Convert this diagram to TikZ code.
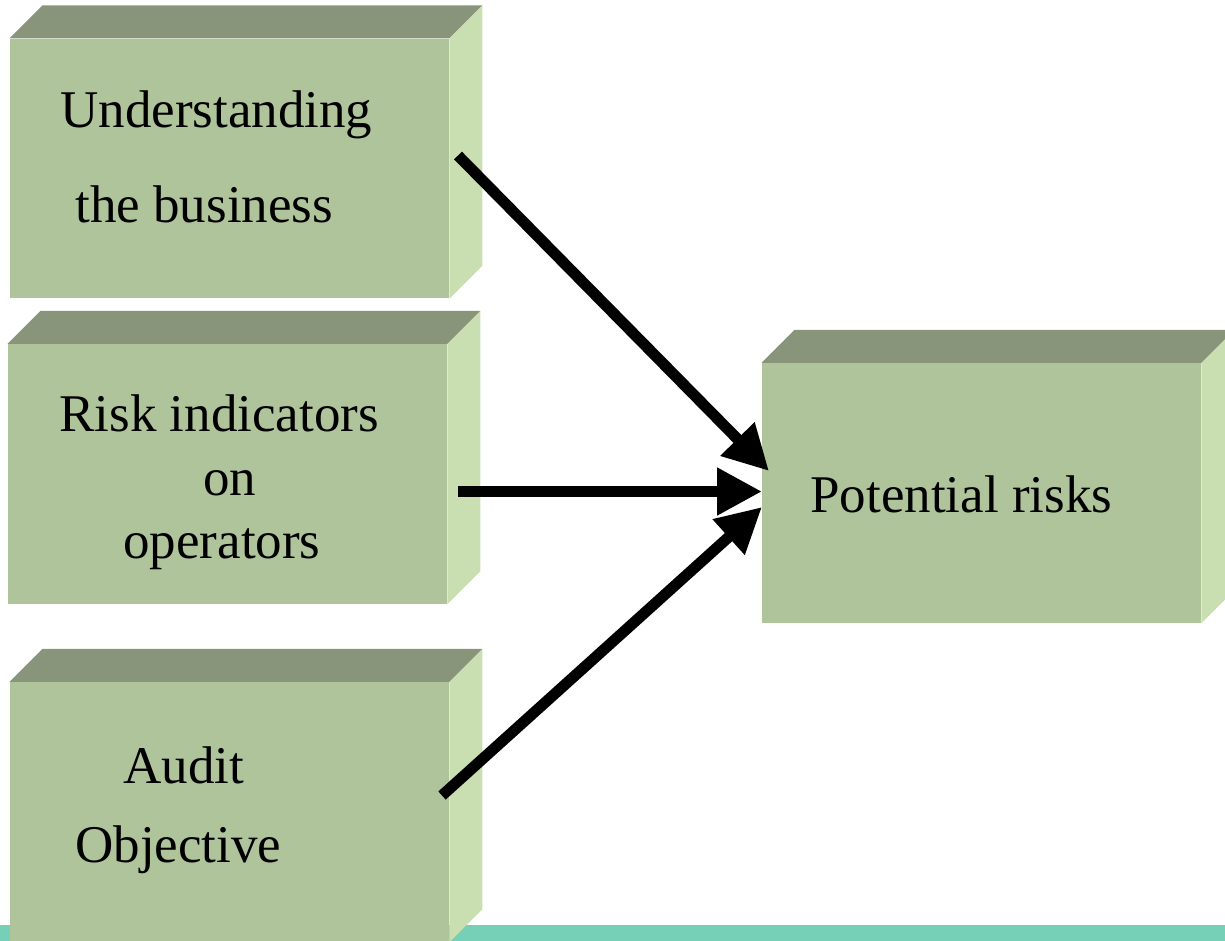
\documentclass[tikz,border=0pt]{standalone}
\usepackage{fontspec}
\setmainfont{Liberation Serif}
\usetikzlibrary{arrows.meta}
\definecolor{frontc}{RGB}{176,196,156}
\definecolor{topc}{RGB}{136,149,122}
\definecolor{sidec}{RGB}{201,223,178}
\definecolor{barc}{RGB}{118,207,183}
\tikzset{
  face/.style={rectangle, fill=frontc, inner sep=0pt, minimum width=219.5pt, minimum height=129.75pt},
  lbl/.style={anchor=base west, inner sep=0pt, font=\fontsize{26.5pt}{30pt}\selectfont},
  conn/.style={line width=5.5pt, -{Triangle[length=22.5pt,width=22.5pt]}}
}
\newcommand{\cuboid}[1]{%
  \fill[topc] (#1.north west) -- ++(33,-33) -- ($(#1.north east)+(33,-33)$) -- (#1.north east) -- cycle;
  \fill[sidec] (#1.north east) -- ++(33,-33) -- ($(#1.south east)+(33,-33)$) -- (#1.south east) -- cycle;
}
\usetikzlibrary{calc}
\begin{document}
\begin{tikzpicture}[x=0.5pt,y=-0.5pt]
\useasboundingbox (0,0) rectangle (1225,941);
\fill[barc] (0,925) rectangle (1225,941);
% boxes
\node[face] (b1) at (229.5,168.5) {};
\node[face] (b2) at (227.5,474) {};
\node[face] (b3) at (229.5,812) {};
\node[face] (b4) at (981.5,493) {};
\cuboid{b1}
\cuboid{b2}
\cuboid{b3}
\cuboid{b4}
% labels
\node[lbl] (t1a) at (60,128) {Understanding};
\node[lbl] (t1b) at (75,223) {the business};
\node[lbl] (t2a) at (59,431) {Risk indicators};
\node[lbl] (t2b) at (203,495) {on};
\node[lbl] (t2c) at (123,558) {operators};
\node[lbl] (t3a) at (123,783) {Audit};
\node[lbl] (t3b) at (75,862) {Objective};
\node[lbl] (t4) at (810,512) {Potential risks};
% connectors
\coordinate (s1) at (458,155.5);
\coordinate (e1) at (769,471);
\coordinate (s2) at (458,491.5);
\coordinate (e2) at (762,491.5);
\coordinate (s3) at (442,795.5);
\coordinate (e3) at (762,507);
\draw[conn] (s1) -- (e1);
\draw[conn] (s2) -- (e2);
\draw[conn] (s3) -- (e3);
\end{tikzpicture}
\end{document}
